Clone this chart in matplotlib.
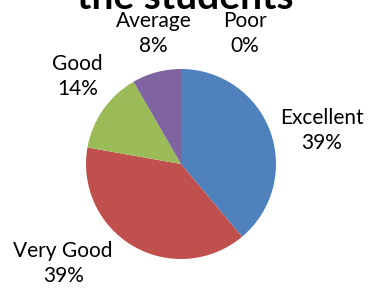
import matplotlib
matplotlib.use("Agg")
import matplotlib.pyplot as plt

categories = ["Excellent", "Very Good", "Good", "Average", "Poor"]
counts = [28, 28, 10, 6, 0]
colors = ["#4F81BD", "#C0504D", "#9BBB59", "#8064A2", "#4BACC6"]

# label centres in axes data units (pie radius = 1)
label_pos = [(1.48, 0.35), (-1.24, -1.05), (-1.09, 0.92), (-0.29, 1.37), (0.67, 1.37)]

plt.rcParams['font.family'] = ['Lato', 'DejaVu Sans']

fig = plt.figure(figsize=(3.7, 2.9), dpi=100)
ax = fig.add_axes([0, 0, 1, 1])

total = sum(counts)
pcts = [round(100 * c / total) for c in counts]
wedges, texts = ax.pie(counts, colors=colors, startangle=90, counterclock=False,
                       radius=1, labels=[f"{n}\n{p}%" for n, p in zip(categories, pcts)],
                       wedgeprops=dict(linewidth=0))
for t, (x, y) in zip(texts, label_pos):
    t.set_position((x, y))
    t.set_ha('center')
    t.set_va('center')
    t.set_fontsize(15)
    t.set_linespacing(1.3)

cx, cy, r = 181, 164, 95
ax.set_xlim(-cx / r, (370 - cx) / r)
ax.set_ylim(-(290 - cy) / r, cy / r)
ax.set_aspect('equal')
ax.axis('off')

fig.text(0.5, 1 - 9 / 290, "the students", ha='center', va='baseline',
         fontsize=28, fontweight='bold')

fig.savefig("out.png", dpi=100)
